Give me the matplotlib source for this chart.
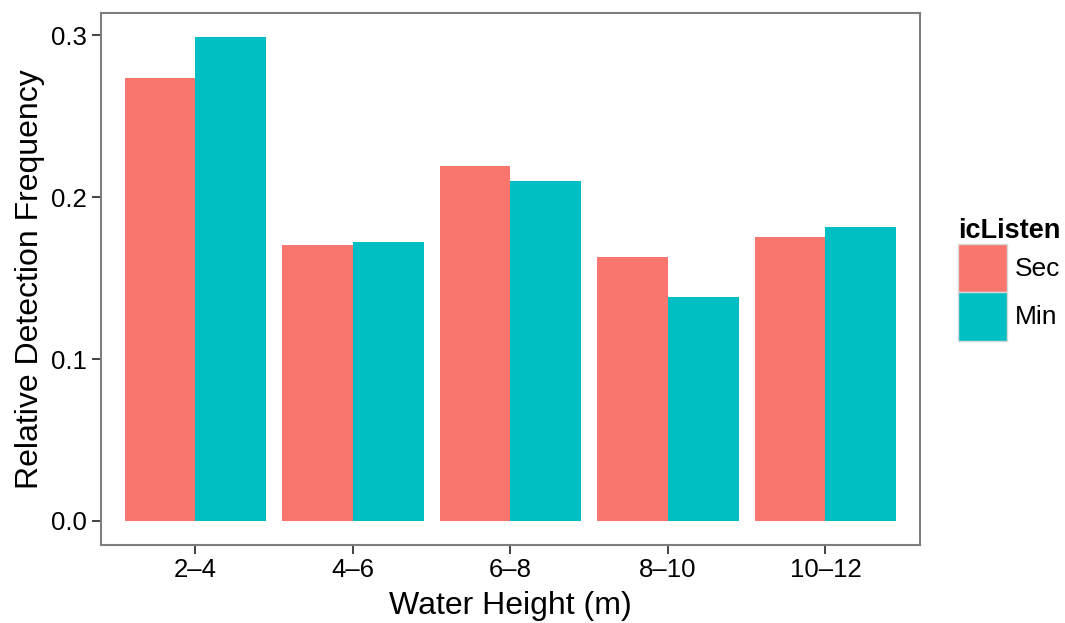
import numpy as np
import matplotlib.pyplot as plt

plt.rcParams['font.family'] = ['Liberation Sans', 'DejaVu Sans']

heights = ['2\u20134', '4\u20136', '6\u20138', '8\u201310', '10\u201312']
sec = [0.2736, 0.1703, 0.2195, 0.1629, 0.1752]
mins = [0.2988, 0.1721, 0.2102, 0.1383, 0.1813]

c_sec = '#F8766D'
c_min = '#00BFC4'

fig = plt.figure(figsize=(10.65, 6.23), dpi=100)
ax = fig.add_axes([0.0948, 0.125, 0.769, 0.854])

x = np.arange(1, len(heights) + 1)
w = 0.45
ax.bar(x - w / 2, sec, width=w, color=c_sec, label='Sec')
ax.bar(x + w / 2, mins, width=w, color=c_min, label='Min')

ax.set_xlim(0.4, 5.6)
ax.set_ylim(-0.01494, 0.3137)
ax.set_xticks(x)
ax.set_xticklabels(heights)
ax.set_yticks([0.0, 0.1, 0.2, 0.3])
ax.set_yticklabels(['0.0', '0.1', '0.2', '0.3'])
ax.tick_params(axis='both', labelsize=18.5, length=6.5, width=1.3, color='#333333',
               labelcolor='black')
ax.tick_params(axis='y', pad=4)
ax.tick_params(axis='x', pad=3)

for s in ax.spines.values():
    s.set_color('#7f7f7f')
    s.set_linewidth(1.5)

ax.set_xlabel('Water Height (m)', fontsize=23, labelpad=6)
ax.set_ylabel('Relative Detection Frequency', fontsize=23, labelpad=4)

leg = ax.legend(title='icListen', loc='center left', bbox_to_anchor=(1.034, 0.5),
                frameon=False, fontsize=19, handlelength=1.85, handleheight=2.45,
                labelspacing=0.0, handletextpad=0.3, borderaxespad=0,
                alignment='left',
                title_fontproperties={'weight': 'bold', 'size': 19.5})
for p in leg.get_patches():
    p.set_edgecolor('#d9d9d9')
    p.set_linewidth(1)

plt.savefig('out.png', dpi=100)
